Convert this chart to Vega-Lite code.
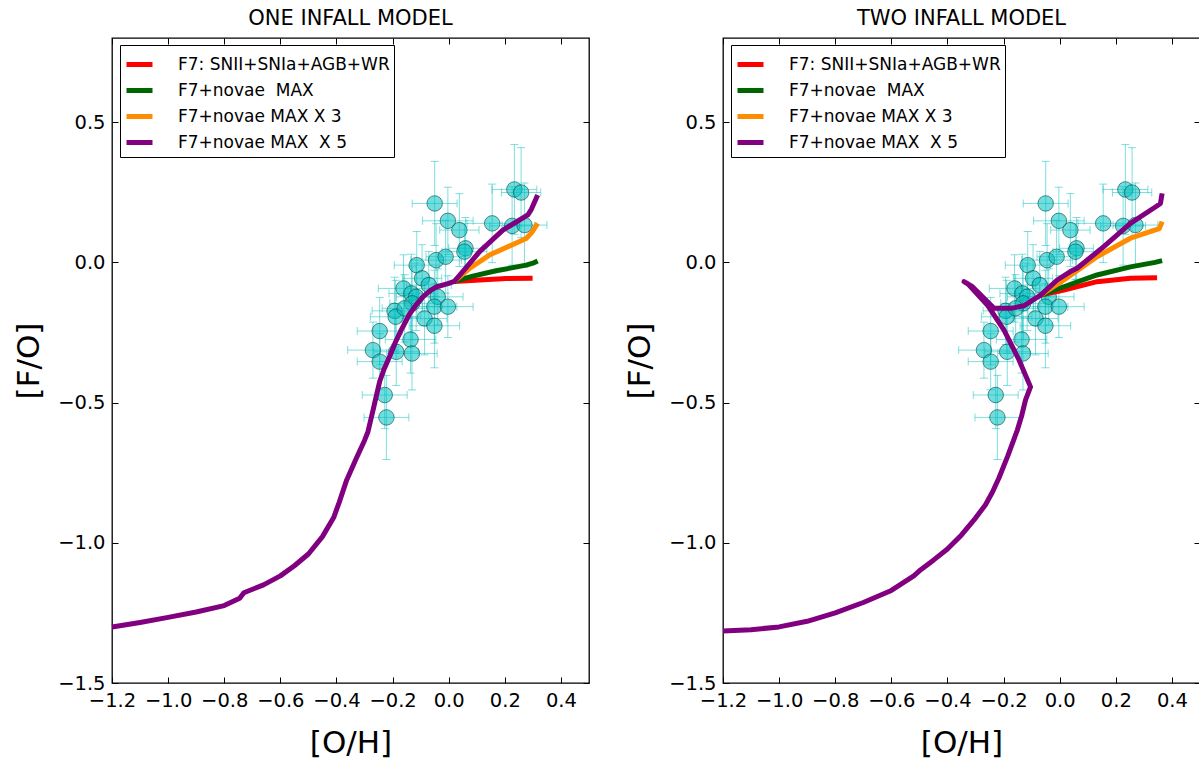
{
  "$schema": "https://vega.github.io/schema/vega-lite/v6.json",
  "padding": {"left": 12, "top": 6, "right": 0, "bottom": 0},
  "background": "white",
  "config": {
    "font": "DejaVu Sans",
    "view": {"stroke": "black", "strokeWidth": 1.3},
    "axis": {"grid": false, "domain": false, "tickColor": "black", "tickSize": -6, "tickWidth": 1, "labelFont": "DejaVu Sans", "labelFontSize": 19.5, "labelColor": "black", "titleFont": "DejaVu Sans", "titleFontSize": 31, "titleFontWeight": "normal", "titleColor": "black"},
    "title": {"font": "DejaVu Sans", "fontSize": 21, "fontWeight": "normal", "color": "black", "offset": 9},
    "legend": {"orient": "none", "legendX": 8, "legendY": 7, "labelFont": "DejaVu Sans", "labelFontSize": 17, "labelColor": "black", "labelLimit": 0, "symbolType": "stroke", "symbolSize": 676, "symbolStrokeWidth": 5, "labelOffset": 23, "padding": 4, "rowPadding": -0.5, "strokeColor": "black", "fillColor": "white", "cornerRadius": 0}
  },
  "datasets": {
    "obs": [
      {"x": -0.050, "y": 0.210, "ex": 0.08, "ey": 0.15},
      {"x": -0.003, "y": 0.148, "ex": 0.09, "ey": 0.12},
      {"x": 0.038, "y": 0.115, "ex": 0.07, "ey": 0.13},
      {"x": 0.060, "y": 0.050, "ex": 0.06, "ey": 0.11},
      {"x": 0.056, "y": 0.038, "ex": 0.08, "ey": 0.10},
      {"x": 0.155, "y": 0.139, "ex": 0.09, "ey": 0.14},
      {"x": 0.234, "y": 0.260, "ex": 0.08, "ey": 0.16},
      {"x": 0.258, "y": 0.249, "ex": 0.07, "ey": 0.16},
      {"x": 0.226, "y": 0.130, "ex": 0.08, "ey": 0.14},
      {"x": 0.270, "y": 0.133, "ex": 0.08, "ey": 0.15},
      {"x": -0.045, "y": 0.008, "ex": 0.09, "ey": 0.13},
      {"x": -0.011, "y": 0.020, "ex": 0.07, "ey": 0.13},
      {"x": -0.114, "y": -0.010, "ex": 0.08, "ey": 0.12},
      {"x": -0.095, "y": -0.057, "ex": 0.07, "ey": 0.12},
      {"x": -0.071, "y": -0.081, "ex": 0.08, "ey": 0.12},
      {"x": -0.161, "y": -0.093, "ex": 0.09, "ey": 0.12},
      {"x": -0.133, "y": -0.111, "ex": 0.08, "ey": 0.14},
      {"x": -0.116, "y": -0.123, "ex": 0.07, "ey": 0.12},
      {"x": -0.130, "y": -0.146, "ex": 0.08, "ey": 0.13},
      {"x": -0.039, "y": -0.123, "ex": 0.09, "ey": 0.10},
      {"x": -0.193, "y": -0.173, "ex": 0.08, "ey": 0.12},
      {"x": -0.189, "y": -0.194, "ex": 0.09, "ey": 0.13},
      {"x": -0.157, "y": -0.164, "ex": 0.08, "ey": 0.12},
      {"x": -0.051, "y": -0.158, "ex": 0.08, "ey": 0.13},
      {"x": -0.003, "y": -0.158, "ex": 0.09, "ey": 0.11},
      {"x": -0.086, "y": -0.200, "ex": 0.08, "ey": 0.13},
      {"x": -0.051, "y": -0.226, "ex": 0.09, "ey": 0.15},
      {"x": -0.246, "y": -0.245, "ex": 0.08, "ey": 0.12},
      {"x": -0.136, "y": -0.275, "ex": 0.09, "ey": 0.12},
      {"x": -0.270, "y": -0.313, "ex": 0.09, "ey": 0.10},
      {"x": -0.187, "y": -0.319, "ex": 0.08, "ey": 0.12},
      {"x": -0.131, "y": -0.325, "ex": 0.09, "ey": 0.13},
      {"x": -0.246, "y": -0.354, "ex": 0.08, "ey": 0.10},
      {"x": -0.228, "y": -0.473, "ex": 0.08, "ey": 0.12},
      {"x": -0.222, "y": -0.553, "ex": 0.08, "ey": 0.15}
    ],
    "one": [
      {"m": "F7: SNII+SNIa+AGB+WR", "i": 1, "x": 0.020, "y": -0.068},
      {"m": "F7: SNII+SNIa+AGB+WR", "i": 2, "x": 0.110, "y": -0.063},
      {"m": "F7: SNII+SNIa+AGB+WR", "i": 3, "x": 0.205, "y": -0.058},
      {"m": "F7: SNII+SNIa+AGB+WR", "i": 4, "x": 0.299, "y": -0.057},
      {"m": "F7+novae  MAX", "i": 1, "x": 0.020, "y": -0.068},
      {"m": "F7+novae  MAX", "i": 2, "x": 0.086, "y": -0.049},
      {"m": "F7+novae  MAX", "i": 3, "x": 0.169, "y": -0.030},
      {"m": "F7+novae  MAX", "i": 4, "x": 0.276, "y": -0.010},
      {"m": "F7+novae  MAX", "i": 5, "x": 0.300, "y": -0.003},
      {"m": "F7+novae  MAX", "i": 6, "x": 0.317, "y": 0.005},
      {"m": "F7+novae MAX X 3", "i": 1, "x": 0.020, "y": -0.068},
      {"m": "F7+novae MAX X 3", "i": 2, "x": 0.074, "y": -0.022},
      {"m": "F7+novae MAX X 3", "i": 3, "x": 0.145, "y": 0.026},
      {"m": "F7+novae MAX X 3", "i": 4, "x": 0.276, "y": 0.085},
      {"m": "F7+novae MAX X 3", "i": 5, "x": 0.295, "y": 0.105},
      {"m": "F7+novae MAX X 3", "i": 6, "x": 0.317, "y": 0.139},
      {"m": "F7+novae MAX  X 5", "i": 1, "x": -1.200, "y": -1.300},
      {"m": "F7+novae MAX  X 5", "i": 2, "x": -1.100, "y": -1.284},
      {"m": "F7+novae MAX  X 5", "i": 3, "x": -1.000, "y": -1.266},
      {"m": "F7+novae MAX  X 5", "i": 4, "x": -0.900, "y": -1.247},
      {"m": "F7+novae MAX  X 5", "i": 5, "x": -0.800, "y": -1.224},
      {"m": "F7+novae MAX  X 5", "i": 6, "x": -0.745, "y": -1.198},
      {"m": "F7+novae MAX  X 5", "i": 7, "x": -0.730, "y": -1.178},
      {"m": "F7+novae MAX  X 5", "i": 8, "x": -0.660, "y": -1.150},
      {"m": "F7+novae MAX  X 5", "i": 9, "x": -0.600, "y": -1.118},
      {"m": "F7+novae MAX  X 5", "i": 10, "x": -0.550, "y": -1.082},
      {"m": "F7+novae MAX  X 5", "i": 11, "x": -0.500, "y": -1.040},
      {"m": "F7+novae MAX  X 5", "i": 12, "x": -0.450, "y": -0.978},
      {"m": "F7+novae MAX  X 5", "i": 13, "x": -0.410, "y": -0.910},
      {"m": "F7+novae MAX  X 5", "i": 14, "x": -0.390, "y": -0.855},
      {"m": "F7+novae MAX  X 5", "i": 15, "x": -0.365, "y": -0.780},
      {"m": "F7+novae MAX  X 5", "i": 16, "x": -0.330, "y": -0.700},
      {"m": "F7+novae MAX  X 5", "i": 17, "x": -0.300, "y": -0.635},
      {"m": "F7+novae MAX  X 5", "i": 18, "x": -0.288, "y": -0.605},
      {"m": "F7+novae MAX  X 5", "i": 19, "x": -0.268, "y": -0.520},
      {"m": "F7+novae MAX  X 5", "i": 20, "x": -0.246, "y": -0.425},
      {"m": "F7+novae MAX  X 5", "i": 21, "x": -0.230, "y": -0.380},
      {"m": "F7+novae MAX  X 5", "i": 22, "x": -0.211, "y": -0.337},
      {"m": "F7+novae MAX  X 5", "i": 23, "x": -0.190, "y": -0.285},
      {"m": "F7+novae MAX  X 5", "i": 24, "x": -0.169, "y": -0.241},
      {"m": "F7+novae MAX  X 5", "i": 25, "x": -0.140, "y": -0.185},
      {"m": "F7+novae MAX  X 5", "i": 26, "x": -0.115, "y": -0.150},
      {"m": "F7+novae MAX  X 5", "i": 27, "x": -0.092, "y": -0.123},
      {"m": "F7+novae MAX  X 5", "i": 28, "x": -0.065, "y": -0.100},
      {"m": "F7+novae MAX  X 5", "i": 29, "x": -0.045, "y": -0.088},
      {"m": "F7+novae MAX  X 5", "i": 30, "x": -0.003, "y": -0.076},
      {"m": "F7+novae MAX  X 5", "i": 31, "x": 0.020, "y": -0.068},
      {"m": "F7+novae MAX  X 5", "i": 32, "x": 0.050, "y": -0.033},
      {"m": "F7+novae MAX  X 5", "i": 33, "x": 0.110, "y": 0.038},
      {"m": "F7+novae MAX  X 5", "i": 34, "x": 0.193, "y": 0.115},
      {"m": "F7+novae MAX  X 5", "i": 35, "x": 0.282, "y": 0.169},
      {"m": "F7+novae MAX  X 5", "i": 36, "x": 0.295, "y": 0.190},
      {"m": "F7+novae MAX  X 5", "i": 37, "x": 0.317, "y": 0.240}
    ],
    "two": [
      {"m": "F7: SNII+SNIa+AGB+WR", "i": 1, "x": -0.068, "y": -0.117},
      {"m": "F7: SNII+SNIa+AGB+WR", "i": 2, "x": 0.015, "y": -0.099},
      {"m": "F7: SNII+SNIa+AGB+WR", "i": 3, "x": 0.133, "y": -0.069},
      {"m": "F7: SNII+SNIa+AGB+WR", "i": 4, "x": 0.252, "y": -0.057},
      {"m": "F7: SNII+SNIa+AGB+WR", "i": 5, "x": 0.347, "y": -0.055},
      {"m": "F7+novae  MAX", "i": 1, "x": -0.068, "y": -0.117},
      {"m": "F7+novae  MAX", "i": 2, "x": 0.015, "y": -0.087},
      {"m": "F7+novae  MAX", "i": 3, "x": 0.133, "y": -0.045},
      {"m": "F7+novae  MAX", "i": 4, "x": 0.252, "y": -0.016},
      {"m": "F7+novae  MAX", "i": 5, "x": 0.340, "y": 0.000},
      {"m": "F7+novae  MAX", "i": 6, "x": 0.365, "y": 0.006},
      {"m": "F7+novae MAX X 3", "i": 1, "x": -0.068, "y": -0.117},
      {"m": "F7+novae MAX X 3", "i": 2, "x": 0.015, "y": -0.063},
      {"m": "F7+novae MAX X 3", "i": 3, "x": 0.133, "y": 0.020},
      {"m": "F7+novae MAX X 3", "i": 4, "x": 0.252, "y": 0.086},
      {"m": "F7+novae MAX X 3", "i": 5, "x": 0.355, "y": 0.120},
      {"m": "F7+novae MAX X 3", "i": 6, "x": 0.365, "y": 0.145},
      {"m": "F7+novae MAX  X 5", "i": 1, "x": -1.200, "y": -1.315},
      {"m": "F7+novae MAX  X 5", "i": 2, "x": -1.100, "y": -1.310},
      {"m": "F7+novae MAX  X 5", "i": 3, "x": -1.000, "y": -1.300},
      {"m": "F7+novae MAX  X 5", "i": 4, "x": -0.900, "y": -1.280},
      {"m": "F7+novae MAX  X 5", "i": 5, "x": -0.800, "y": -1.250},
      {"m": "F7+novae MAX  X 5", "i": 6, "x": -0.700, "y": -1.213},
      {"m": "F7+novae MAX  X 5", "i": 7, "x": -0.600, "y": -1.170},
      {"m": "F7+novae MAX  X 5", "i": 8, "x": -0.520, "y": -1.118},
      {"m": "F7+novae MAX  X 5", "i": 9, "x": -0.500, "y": -1.100},
      {"m": "F7+novae MAX  X 5", "i": 10, "x": -0.450, "y": -1.062},
      {"m": "F7+novae MAX  X 5", "i": 11, "x": -0.400, "y": -1.022},
      {"m": "F7+novae MAX  X 5", "i": 12, "x": -0.350, "y": -0.972},
      {"m": "F7+novae MAX  X 5", "i": 13, "x": -0.300, "y": -0.912},
      {"m": "F7+novae MAX  X 5", "i": 14, "x": -0.265, "y": -0.865},
      {"m": "F7+novae MAX  X 5", "i": 15, "x": -0.240, "y": -0.820},
      {"m": "F7+novae MAX  X 5", "i": 16, "x": -0.217, "y": -0.770},
      {"m": "F7+novae MAX  X 5", "i": 17, "x": -0.185, "y": -0.690},
      {"m": "F7+novae MAX  X 5", "i": 18, "x": -0.151, "y": -0.598},
      {"m": "F7+novae MAX  X 5", "i": 19, "x": -0.135, "y": -0.545},
      {"m": "F7+novae MAX  X 5", "i": 20, "x": -0.122, "y": -0.491},
      {"m": "F7+novae MAX  X 5", "i": 21, "x": -0.104, "y": -0.444},
      {"m": "F7+novae MAX  X 5", "i": 22, "x": -0.145, "y": -0.348},
      {"m": "F7+novae MAX  X 5", "i": 23, "x": -0.199, "y": -0.241},
      {"m": "F7+novae MAX  X 5", "i": 24, "x": -0.258, "y": -0.152},
      {"m": "F7+novae MAX  X 5", "i": 25, "x": -0.329, "y": -0.075},
      {"m": "F7+novae MAX  X 5", "i": 26, "x": -0.341, "y": -0.069},
      {"m": "F7+novae MAX  X 5", "i": 27, "x": -0.311, "y": -0.087},
      {"m": "F7+novae MAX  X 5", "i": 28, "x": -0.234, "y": -0.164},
      {"m": "F7+novae MAX  X 5", "i": 29, "x": -0.175, "y": -0.164},
      {"m": "F7+novae MAX  X 5", "i": 30, "x": -0.128, "y": -0.155},
      {"m": "F7+novae MAX  X 5", "i": 31, "x": -0.068, "y": -0.117},
      {"m": "F7+novae MAX  X 5", "i": 32, "x": -0.009, "y": -0.063},
      {"m": "F7+novae MAX  X 5", "i": 33, "x": 0.038, "y": -0.033},
      {"m": "F7+novae MAX  X 5", "i": 34, "x": 0.062, "y": -0.021},
      {"m": "F7+novae MAX  X 5", "i": 35, "x": 0.157, "y": 0.056},
      {"m": "F7+novae MAX  X 5", "i": 36, "x": 0.252, "y": 0.139},
      {"m": "F7+novae MAX  X 5", "i": 37, "x": 0.345, "y": 0.200},
      {"m": "F7+novae MAX  X 5", "i": 38, "x": 0.359, "y": 0.210},
      {"m": "F7+novae MAX  X 5", "i": 39, "x": 0.365, "y": 0.246}
    ]
  },
  "spacing": 32,
  "resolve": {"scale": {"color": "independent"}, "legend": {"color": "independent"}},
  "hconcat": [
    {
      "width": 477,
      "height": 645,
      "title": {"text": "ONE INFALL MODEL"},
      "layer": [
        {
          "data": {"name": "obs"},
          "mark": {"type": "errorbar", "color": "#00bfbf", "opacity": 0.5, "thickness": 1, "ticks": {"size": 8, "thickness": 1}},
          "encoding": {
            "x": {"field": "x", "type": "quantitative", "scale": {"domain": [-1.2, 0.5], "nice": false, "zero": false}, "axis": {"values": [-1.2, -1.0, -0.8, -0.6, -0.4, -0.2, 0.0, 0.2, 0.4], "format": ".1f", "title": "[O/H]", "labelPadding": 14, "titlePadding": 19, "labelFlush": false}},
            "xError": {"field": "ex"},
            "y": {"field": "y", "type": "quantitative", "scale": {"domain": [-1.5, 0.8], "nice": false, "zero": false}, "axis": {"values": [-1.5, -1.0, -0.5, 0.0, 0.5], "format": ".1f", "title": "[F/O]", "labelPadding": 13, "titlePadding": 12, "labelFlush": false}}
          }
        },
        {
          "data": {"name": "obs"},
          "mark": {"type": "errorbar", "color": "#00bfbf", "opacity": 0.5, "thickness": 1, "ticks": {"size": 8, "thickness": 1}},
          "encoding": {
            "x": {"field": "x", "type": "quantitative", "axis": null},
            "y": {"field": "y", "type": "quantitative", "axis": null},
            "yError": {"field": "ey"}
          }
        },
        {
          "data": {"name": "obs"},
          "mark": {"type": "circle", "size": 240, "fill": "#00bfbf", "fillOpacity": 0.55, "stroke": "#004848", "strokeOpacity": 0.6, "strokeWidth": 1},
          "encoding": {
            "x": {"field": "x", "type": "quantitative", "axis": null},
            "y": {"field": "y", "type": "quantitative", "axis": null}
          }
        },
        {
          "data": {"name": "one"},
          "mark": {"type": "line", "strokeWidth": 5, "strokeCap": "butt", "strokeJoin": "round"},
          "encoding": {
            "x": {"field": "x", "type": "quantitative", "axis": null},
            "y": {"field": "y", "type": "quantitative", "axis": null},
            "order": {"field": "i", "type": "quantitative"},
            "color": {"field": "m", "type": "nominal", "scale": {"domain": ["F7: SNII+SNIa+AGB+WR", "F7+novae  MAX", "F7+novae MAX X 3", "F7+novae MAX  X 5"], "range": ["#ff0000", "#006400", "#ff8c00", "#800080"]}, "legend": {"title": null, "labelExpr": "replace(datum.label, '  ', '\u00a0 ')"}}
          }
        },
        {
          "data": {"name": "obs"},
          "mark": {"type": "point", "opacity": 0},
          "encoding": {
            "x": {"field": "x", "type": "quantitative", "axis": {"orient": "top", "labels": false, "title": null, "values": [-1.2, -1.0, -0.8, -0.6, -0.4, -0.2, 0.0, 0.2, 0.4]}},
            "y": {"field": "y", "type": "quantitative", "axis": {"orient": "right", "labels": false, "title": null, "values": [-1.5, -1.0, -0.5, 0.0, 0.5]}}
          }
        }
      ],
      "resolve": {"axis": {"x": "independent", "y": "independent"}}
    },
    {
      "width": 477,
      "height": 645,
      "title": {"text": "TWO INFALL MODEL"},
      "layer": [
        {
          "data": {"name": "obs"},
          "mark": {"type": "errorbar", "color": "#00bfbf", "opacity": 0.5, "thickness": 1, "ticks": {"size": 8, "thickness": 1}},
          "encoding": {
            "x": {"field": "x", "type": "quantitative", "scale": {"domain": [-1.2, 0.5], "nice": false, "zero": false}, "axis": {"values": [-1.2, -1.0, -0.8, -0.6, -0.4, -0.2, 0.0, 0.2, 0.4], "format": ".1f", "title": "[O/H]", "labelPadding": 14, "titlePadding": 19, "labelFlush": false}},
            "xError": {"field": "ex"},
            "y": {"field": "y", "type": "quantitative", "scale": {"domain": [-1.5, 0.8], "nice": false, "zero": false}, "axis": {"values": [-1.5, -1.0, -0.5, 0.0, 0.5], "format": ".1f", "title": "[F/O]", "labelPadding": 13, "titlePadding": 12, "labelFlush": false}}
          }
        },
        {
          "data": {"name": "obs"},
          "mark": {"type": "errorbar", "color": "#00bfbf", "opacity": 0.5, "thickness": 1, "ticks": {"size": 8, "thickness": 1}},
          "encoding": {
            "x": {"field": "x", "type": "quantitative", "axis": null},
            "y": {"field": "y", "type": "quantitative", "axis": null},
            "yError": {"field": "ey"}
          }
        },
        {
          "data": {"name": "obs"},
          "mark": {"type": "circle", "size": 240, "fill": "#00bfbf", "fillOpacity": 0.55, "stroke": "#004848", "strokeOpacity": 0.6, "strokeWidth": 1},
          "encoding": {
            "x": {"field": "x", "type": "quantitative", "axis": null},
            "y": {"field": "y", "type": "quantitative", "axis": null}
          }
        },
        {
          "data": {"name": "two"},
          "mark": {"type": "line", "strokeWidth": 5, "strokeCap": "butt", "strokeJoin": "round"},
          "encoding": {
            "x": {"field": "x", "type": "quantitative", "axis": null},
            "y": {"field": "y", "type": "quantitative", "axis": null},
            "order": {"field": "i", "type": "quantitative"},
            "color": {"field": "m", "type": "nominal", "scale": {"domain": ["F7: SNII+SNIa+AGB+WR", "F7+novae  MAX", "F7+novae MAX X 3", "F7+novae MAX  X 5"], "range": ["#ff0000", "#006400", "#ff8c00", "#800080"]}, "legend": {"title": null, "labelExpr": "replace(datum.label, '  ', '\u00a0 ')"}}
          }
        },
        {
          "data": {"name": "obs"},
          "mark": {"type": "point", "opacity": 0},
          "encoding": {
            "x": {"field": "x", "type": "quantitative", "axis": {"orient": "top", "labels": false, "title": null, "values": [-1.2, -1.0, -0.8, -0.6, -0.4, -0.2, 0.0, 0.2, 0.4]}},
            "y": {"field": "y", "type": "quantitative", "axis": {"orient": "right", "labels": false, "title": null, "values": [-1.5, -1.0, -0.5, 0.0, 0.5]}}
          }
        }
      ],
      "resolve": {"axis": {"x": "independent", "y": "independent"}}
    }
  ]
}
